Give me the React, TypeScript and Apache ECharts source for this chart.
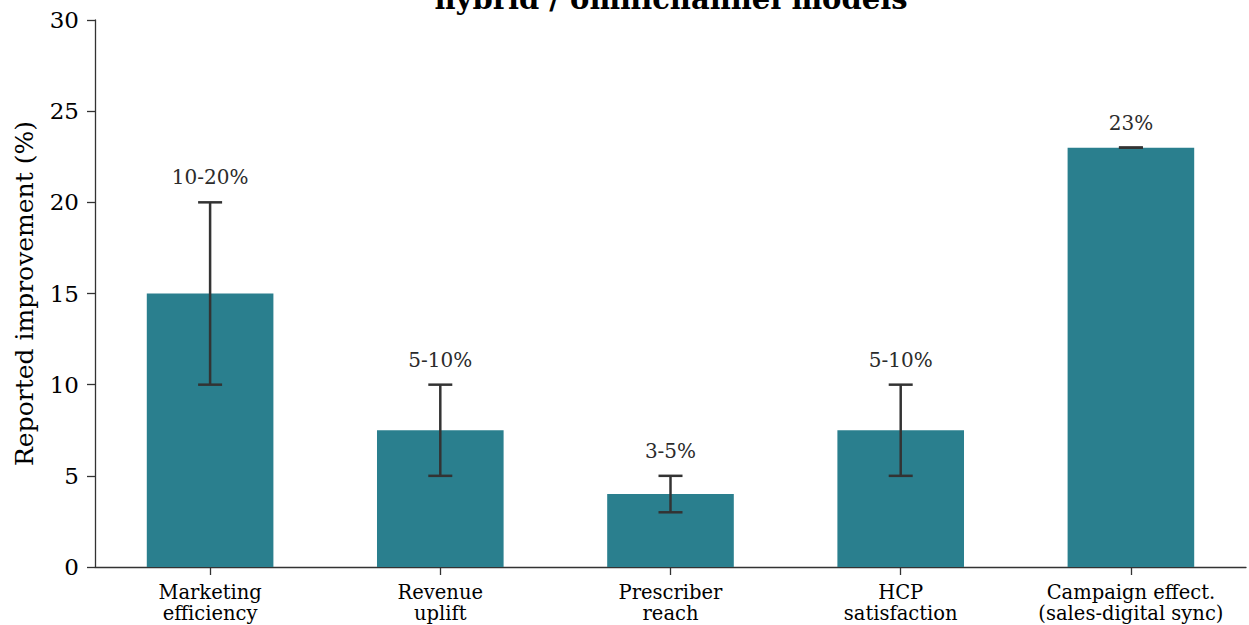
import React, { useEffect, useRef } from "react";
import * as echarts from "echarts";

// Reported improvement ranges from hybrid / omnichannel engagement models
const categories = [
  "Marketing\nefficiency",
  "Revenue\nuplift",
  "Prescriber\nreach",
  "HCP\nsatisfaction",
  "Campaign effect.\n(sales-digital sync)",
];
const midValues = [15, 7.5, 4, 7.5, 23];
const lowValues = [10, 5, 3, 5, 23];
const highValues = [20, 10, 5, 10, 23];
const rangeLabels = ["10-20%", "5-10%", "3-5%", "5-10%", "23%"];
const yTicks = { min: 0, max: 30, interval: 5 };

const FONT = "'DejaVu Serif', serif";
const BAR_COLOR = "#2a7f8e";
const INK = "#333333";

export default function App() {
  const ref = useRef<HTMLDivElement>(null);

  useEffect(() => {
    if (!ref.current) return;
    const chart = echarts.init(ref.current, null, { renderer: "svg" });

    const errorData = categories.map((_, i) => [i, lowValues[i], highValues[i]]);
    const labelData = categories.map((_, i) => ({
      value: [i, highValues[i]],
      label: { formatter: rangeLabels[i] },
    }));

    chart.setOption({
      animation: false,
      backgroundColor: "#ffffff",
      graphic: [
        {
          type: "text",
          x: 671,
          y: -1,
          style: {
            text: "hybrid / omnichannel models",
            font: `bold 29px ${FONT}`,
            fill: "#000000",
            textAlign: "center",
            textVerticalAlign: "middle",
          },
          z: 10,
        },
      ],
      grid: { left: 95, right: 3, top: 20, bottom: 58, containLabel: false },
      xAxis: {
        type: "category",
        data: categories,
        boundaryGap: true,
        axisLine: { show: true, lineStyle: { color: INK, width: 1.3 } },
        axisTick: {
          show: true,
          alignWithLabel: true,
          length: 8,
          lineStyle: { color: INK, width: 1.3 },
        },
        axisLabel: {
          fontFamily: FONT,
          fontSize: 19.5,
          color: "#000000",
          lineHeight: 21,
          margin: 15,
          interval: 0,
        },
        splitLine: { show: false },
      },
      yAxis: {
        type: "value",
        min: yTicks.min,
        max: yTicks.max,
        interval: yTicks.interval,
        name: "Reported improvement (%)",
        nameLocation: "middle",
        nameGap: 58,
        nameTextStyle: { fontFamily: FONT, fontSize: 25, color: "#000000" },
        axisLine: { show: true, lineStyle: { color: INK, width: 1.3 } },
        axisTick: { show: true, length: 8, lineStyle: { color: INK, width: 1.3 } },
        axisLabel: { fontFamily: FONT, fontSize: 23, color: "#000000", margin: 16 },
        splitLine: { show: false },
      },
      series: [
        {
          type: "bar",
          data: midValues,
          barWidth: "55%",
          itemStyle: { color: BAR_COLOR },
          z: 2,
        },
        {
          type: "custom",
          data: errorData,
          z: 5,
          renderItem: (params: any, api: any) => {
            const x = api.value(0);
            const lo = api.coord([x, api.value(1)]);
            const hi = api.coord([x, api.value(2)]);
            const cap = 12;
            const style = { stroke: INK, lineWidth: 2.5 };
            return {
              type: "group",
              children: [
                { type: "line", shape: { x1: lo[0], y1: lo[1], x2: hi[0], y2: hi[1] }, style },
                { type: "line", shape: { x1: hi[0] - cap, y1: hi[1], x2: hi[0] + cap, y2: hi[1] }, style },
                { type: "line", shape: { x1: lo[0] - cap, y1: lo[1], x2: lo[0] + cap, y2: lo[1] }, style },
              ],
            };
          },
        },
        {
          type: "scatter",
          data: labelData,
          symbolSize: 0,
          z: 6,
          itemStyle: { color: "#2b2b2b", opacity: 1 },
          label: {
            show: true,
            position: "top",
            distance: 15,
            fontFamily: FONT,
            fontSize: 20,
            color: "#2b2b2b",
            opacity: 1,
          },
        },
      ],
    });

    return () => chart.dispose();
  }, []);

  return (
    <div
      ref={ref}
      style={{ position: "fixed", left: 0, top: 0, width: 1249, height: 625 }}
    />
  );
}
